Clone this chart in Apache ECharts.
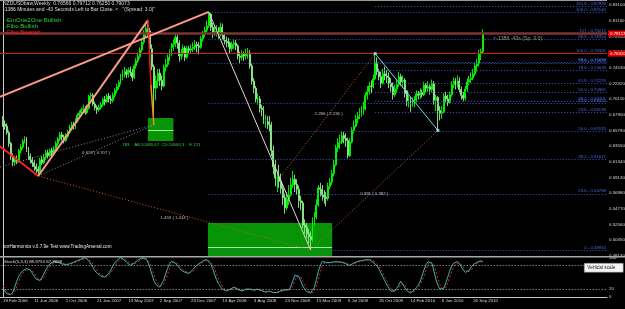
<!DOCTYPE html>
<html><head><meta charset="utf-8">
<script src="https://cdn.jsdelivr.net/npm/echarts@6/dist/echarts.min.js"></script>
<style>html,body{margin:0;padding:0;background:#000;}#c{width:625px;height:309px;}</style>
</head><body><div id="c"></div>
<script>
// ---------- data ----------
const dateLabels = ['19 Feb 2006','11 Jun 2006','1 Oct 2006','21 Jan 2007','13 May 2007','2 Sep 2007','23 Dec 2007','13 Apr 2008','3 Aug 2008','23 Nov 2008','15 Mar 2009','5 Jul 2009','25 Oct 2009','14 Feb 2010','6 Jun 2010','26 Sep 2010'];
const priceLabels = ['0.48130','0.50350','0.52560','0.54770','0.56980','0.59130','0.61340','0.63550','0.65790','0.67900','0.70110','0.72320','0.74530','0.76740','0.78950','0.81100','0.83100'];
// weekly bars from 19 Feb 2006, [open, close, low, high] in pips (1e-4)
const weeklyOCLH = [
[6700,6650,6610,6760],[6650,6620,6570,6700],[6620,6530,6500,6660],[6530,6380,6330,6560],[6380,6200,6150,6400],
[6200,6120,6060,6240],[6120,6150,6070,6200],[6150,6130,6090,6210],[6130,6280,6110,6300],[6280,6330,6240,6370],
[6330,6410,6300,6440],[6410,6450,6380,6480],[6450,6300,6260,6470],[6300,6200,6150,6330],[6200,6150,6100,6240],
[6150,6110,6050,6190],[6110,6060,6000,6150],[6060,6020,5960,6100],[6020,5990,5925,6060],[5990,6150,5970,6180],
[6150,6110,6080,6200],[6110,6190,6090,6230],[6190,6250,6150,6290],[6250,6210,6170,6290],[6210,6280,6190,6310],
[6280,6240,6200,6320],[6240,6300,6220,6340],[6300,6380,6270,6410],[6380,6440,6340,6470],[6440,6500,6410,6540],
[6500,6470,6420,6540],[6470,6420,6380,6500],[6420,6480,6400,6520],[6480,6540,6450,6570],[6540,6600,6510,6640],
[6600,6640,6560,6680],[6640,6600,6570,6680],[6600,6700,6580,6730],[6700,6770,6670,6800],[6770,6800,6740,6840],
[6800,6850,6760,6880],[6850,6860,6800,6920],[6860,6810,6780,6900],[6810,6870,6790,6920],[6870,7040,6850,7060],
[7040,7050,6990,7090],[7050,6930,6900,7080],[6930,6880,6840,6960],[6880,6850,6790,6910],[6850,6880,6820,6920],
[6880,6920,6850,6960],[6920,6990,6890,7020],[6990,6960,6910,7040],[6960,7040,6940,7070],[7040,7000,6950,7080],
[7000,6980,6930,7050],[6980,7050,6950,7090],[7050,7120,7020,7150],[7120,7170,7080,7210],[7170,7230,7130,7260],
[7230,7300,7200,7350],[7300,7370,7260,7410],[7370,7380,7300,7450],[7380,7340,7290,7420],[7340,7400,7300,7440],
[7400,7370,7320,7450],[7370,7300,7250,7420],[7300,7460,7280,7490],[7460,7530,7420,7570],[7530,7590,7500,7650],
[7590,7680,7560,7720],[7680,7790,7650,7830],[7790,7900,7760,7960],[7900,7980,7860,8040],[7980,7950,7880,8100],
[7950,7700,7650,7990],[7700,7450,7400,7760],[7450,7150,6640,7480],[7150,7250,6980,7330],[7250,7360,7150,7420],
[7360,7260,7180,7420],[7260,7180,7120,7330],[7180,7440,7160,7480],[7440,7480,7380,7560],[7480,7580,7450,7620],
[7580,7640,7530,7690],[7640,7720,7600,7780],[7720,7760,7670,7830],[7760,7860,7720,7920],[7860,7780,7700,7900],
[7780,7600,7520,7820],[7600,7640,7550,7700],[7640,7710,7590,7760],[7710,7580,7530,7740],[7580,7700,7560,7740],
[7700,7680,7620,7740],[7680,7700,7640,7760],[7700,7720,7650,7790],[7720,7760,7680,7820],[7760,7740,7650,7800],
[7740,7720,7620,7790],[7720,7840,7700,7880],[7840,7900,7800,7950],[7900,7960,7860,8010],[7960,8020,7930,8090],
[8020,8180,7990,8214],[8180,8000,7950,8200],[8000,7930,7850,8060],[7930,7940,7880,8010],[7940,7950,7870,8030],
[7950,7900,7840,8000],[7900,8000,7870,8060],[8000,7890,7830,8050],[7890,7820,7760,7930],[7820,7800,7720,7870],
[7800,7780,7720,7850],[7780,7700,7640,7800],[7700,7760,7660,7800],[7760,7780,7700,7830],[7780,7740,7680,7820],
[7740,7600,7550,7760],[7600,7580,7500,7660],[7580,7620,7540,7680],[7620,7600,7530,7660],[7600,7630,7550,7700],
[7630,7640,7560,7710],[7640,7460,7420,7680],[7460,7250,7200,7500],[7250,7150,7080,7290],[7150,7000,6950,7180],
[7000,7000,6920,7080],[7000,6870,6810,7040],[6870,6850,6760,6920],[6850,6700,6650,6900],[6700,6700,6600,6780],
[6700,6680,6580,6760],[6680,6640,6540,6760],[6640,6280,6200,6680],[6280,6050,5950,6350],[6050,5900,5780,6150],
[5900,5900,5700,6000],[5900,5850,5760,6080],[5850,5750,5680,5960],[5750,5620,5520,5800],[5620,5480,5400,5680],
[5480,5600,5450,5700],[5600,5660,5520,5800],[5660,5800,5640,5900],[5800,5880,5760,6000],[5880,5810,5700,5940],
[5810,5740,5660,5880],[5740,5580,5480,5790],[5580,5550,5450,5650],[5550,5240,5200,5580],[5240,5210,5120,5320],
[5210,5120,5060,5270],[5120,5080,4980,5180],[5080,5040,4893,5150],[5040,5300,5000,5350],[5300,5350,5230,5420],
[5350,5520,5320,5600],[5520,5760,5500,5800],[5760,5740,5640,5830],[5740,5660,5580,5800],[5660,5630,5540,5730],
[5630,5610,5500,5700],[5610,5780,5580,5830],[5780,5840,5740,5900],[5840,5960,5800,6010],[5960,6080,5920,6150],
[6080,6320,6060,6360],[6320,6390,6260,6450],[6390,6400,6300,6500],[6400,6490,6370,6550],[6490,6450,6380,6540],
[6450,6420,6330,6520],[6420,6210,6170,6460],[6210,6400,6190,6450],[6400,6560,6380,6610],[6560,6620,6520,6700],
[6620,6720,6600,6780],[6720,6760,6660,6820],[6760,6800,6720,6870],[6800,6840,6750,6900],[6840,6860,6780,6960],
[6860,7050,6840,7090],[7050,7100,6990,7180],[7100,7180,7060,7240],[7180,7170,7080,7260],[7170,7280,7150,7340],
[7280,7500,7260,7632],[7500,7380,7330,7580],[7380,7310,7260,7420],[7310,7220,7150,7380],[7220,7350,7200,7420],
[7350,7320,7260,7450],[7320,7300,7220,7400],[7300,7220,7150,7370],[7220,7170,7100,7290],[7170,7060,6990,7230],
[7060,7140,7030,7200],[7140,7200,7080,7270],[7200,7310,7170,7380],[7310,7240,7180,7350],[7240,7260,7150,7330],
[7260,7080,7020,7290],[7080,6970,6900,7120],[6970,6990,6880,7050],[6990,6960,6820,7030],[6960,6960,6890,7020],
[6960,6980,6880,7040],[6980,7070,6950,7120],[7070,7050,6990,7110],[7050,7090,7000,7150],[7090,7060,7020,7130],
[7060,7190,7040,7240],[7190,7150,7090,7220],[7150,7170,7100,7250],[7170,7130,7060,7200],[7130,7210,7090,7270],
[7210,6980,6920,7250],[6980,7020,6830,7060],[7020,6840,6561,7040],[6840,6800,6700,6900],[6800,6820,6720,6900],
[6820,7040,6800,7080],[7040,7000,6950,7100],[7000,6950,6900,7060],[6950,7060,6930,7100],[7060,7200,7030,7250],
[7200,7250,7150,7300],[7250,7190,7130,7290],[7190,7250,7160,7330],[7250,7130,7080,7300],[7130,7050,6990,7170],
[7050,7010,6970,7100],[7010,7140,6980,7180],[7140,7240,7100,7290],[7240,7270,7190,7320],[7270,7290,7220,7370],
[7290,7350,7260,7420],[7350,7460,7320,7500],[7460,7490,7380,7560],[7490,7630,7450,7680],[7630,7657,7540,7700],
[7657,7907,7625,7971]
];
const stochK = [22,15,8,5,6,12,25,40,52,60, 66,70,72,70,68,60,52,45,40,42, 50,60,70,78,84,88,90,90,88,86,
84,83,82,82,84,86,88,90,92,94, 96,98,100,96,90,82,74,66,60,56, 53,51,50,54,60,68,78,86,92,96,
100,98,94,88,84,80,82,86,90,94, 97,99,100,96,88,74,58,42,32,27, 25,30,42,58,72,84,90,90,86,80,
74,68,64,62,60,60,64,70,76,80, 84,88,91,93,95,92,84,72,58,44, 34,26,20,17,15,17,20,23,25,22,
19,17,15,17,20,22,20,18,17,18, 20,19,16,14,12,13,15,13,11,10, 12,14,16,17,18,18,18,28,42,55,
60,52,40,28,20,14,11,10,10,25, 45,65,80,90,89,87,86,87,88,89, 90,89,88,88,88,84,81,80,83,86,
89,90,91,92,93,94,95,94,92,88, 84,78,70,60,50,40,30,22,15,10, 15,22,30,40,35,25,16,12,10,12,
18,24,30,40,55,70,82,90,95,85, 65,45,30,20,15,22,35,50,65,78, 85,88,90,84,76,68,62,60,68,76,
82,86,88,91,92,89];
const stochD = [28,22,15,9,6,8,14,26,39,51, 59,65,69,71,70,66,60,52,46,42, 44,51,60,69,77,83,87,89,89,88,
86,84,83,82,83,84,86,88,90,92, 94,96,98,98,95,89,82,74,67,61, 56,53,51,52,55,61,69,77,85,91,
96,98,97,93,89,84,82,83,86,90, 94,97,99,98,95,86,73,58,44,34, 28,27,32,43,57,71,82,88,89,85,
80,74,69,65,62,61,61,65,70,75, 80,84,88,91,93,93,90,83,71,58, 45,35,27,21,17,16,17,20,23,23,
22,19,17,16,17,20,21,20,18,18, 18,19,18,16,14,13,13,14,13,11, 11,12,14,16,17,18,18,21,29,42,
52,56,51,40,29,21,15,12,10,15, 27,45,63,78,86,89,87,87,87,88, 89,89,89,88,88,87,84,82,81,83,
86,88,90,91,92,93,94,94,94,91, 88,83,77,69,60,50,40,31,22,16, 13,16,22,31,35,33,25,18,13,11,
13,18,24,31,42,55,69,82,89,90, 82,65,47,32,22,19,24,36,50,64, 76,84,88,87,83,76,69,63,63,68,
75,81,85,88,90,90];
// fibonacci levels
const fibBLevels = ['0','23.6','38.2','50.0','61.8','78.6','88.6','100.0'];
const fibBPrices = [0.48930,0.56768,0.61617,0.65535,0.69454,0.75033,0.78354,0.82140];
const fibBStartWeek = 105;
const fibALevels = ['23.6','38.2','50.0','61.8','78.6','88.6','100.0','127','161.8'];
const fibAPrices = [0.68138,0.69701,0.70965,0.72229,0.74028,0.75099,0.76320,0.79212,0.82939];
const fibAStartWeek = 190;
const brownLinePrice = 0.79117;
const redLinePrice = 0.76320;
// harmonic pattern points [week, price]
const pLeftRed = [-1.6, 0.6340];
const pLeftSalmon = [-1.6, 0.7030];
const pLeftGray = [-1.6, 0.6051];
const pX = [18, 0.5925];
const pA = [74, 0.8100];
const pAB = [75.5, 0.7200];
const pB = [77, 0.6640];
const pC = [105, 0.8214];
const pD = [157, 0.4893];
const pH = [142.4, 0.5939];
const pE = [190, 0.7632];
const pF = [222, 0.6561];
// zones [weekFrom, priceTop, weekTo, priceBottom]
const zone1 = [74, 0.6734, 87, 0.6413];
const zone1Mid = 0.6567;
const zone2 = [104.6, 0.5270, 168, 0.4809];
const zone2Mid = 0.4935;

// ---------- chart ----------
const FONT = 'Liberation Sans';
const XMIN = -16, XMAX = 308.32;
const YMIN = 0.48093, YMAX = 0.83658;
const chart = echarts.init(document.getElementById('c'), null, {renderer: 'canvas', width: 625, height: 309});

const candles = weeklyOCLH.map((r, i) => [i, r[0] / 1e4, r[1] / 1e4, r[2] / 1e4, r[3] / 1e4]);
const mid = (a, b) => [(a[0] + b[0]) / 2, (a[1] + b[1]) / 2];

function seg(points, color, width, type, z) {
  return {type: 'line', xAxisIndex: 0, yAxisIndex: 0, data: points, showSymbol: false, symbol: 'none',
    silent: true, animation: false, z: z || 5, clip: false,
    lineStyle: {color: color, width: width, type: type || 'solid'}};
}

function fibLines(levels, prices, start) {
  return levels.map((lv, k) => [
    {coord: [start, prices[k]], label: {formatter: lv + ' - ' + prices[k].toFixed(5)}},
    {coord: [XMAX, prices[k]]}
  ]);
}

const ratioLabels = [
  {value: mid(pX, pB), text: '0.673 ( 0.707 )', dy: 2},
  {value: mid(pX, pD), text: '1.453 ( 1.414 )', dy: 5},
  {value: mid(pH, pE), text: '2.286 ( 2.236 )', dy: 0},
  {value: mid(pD, pF), text: '0.391 ( 0.382 )', dy: 4}
];

const option = {
  backgroundColor: '#000000',
  animation: false,
  textStyle: {fontFamily: FONT},
  grid: [
    {left: -28.344, right: 18, top: 1, height: 255, outerBoundsMode: 'none', containLabel: false},
    {left: -28.344, right: 18, top: 257.5, height: 39.5, outerBoundsMode: 'none', containLabel: false},
    {left: -28.344, right: 18, top: 5.0, height: 266.4, outerBoundsMode: 'none', containLabel: false}
  ],
  xAxis: [
    {type: 'value', gridIndex: 0, min: XMIN, max: XMAX, show: false},
    {type: 'value', gridIndex: 1, min: XMIN, max: XMAX, interval: 16,
      axisLine: {show: true, lineStyle: {color: '#c8c8c8', width: 1}},
      axisTick: {show: false}, splitLine: {show: false},
      axisLabel: {show: true, color: '#d8d8d8', fontSize: 4.4, fontFamily: FONT, align: 'left', margin: 1.5,
        showMinLabel: true, showMaxLabel: true,
        formatter: v => { const r = Math.round(v); if (r < 0 || r % 16 !== 0) return ''; return dateLabels[r / 16] || ''; }}},
    {type: 'value', gridIndex: 2, min: XMIN, max: XMAX, show: false}
  ],
  yAxis: [
    {type: 'value', gridIndex: 0, min: YMIN, max: YMAX, position: 'right',
      axisLine: {show: true, lineStyle: {color: '#c8c8c8', width: 1}},
      axisTick: {show: false}, axisLabel: {show: false}, splitLine: {show: false}},
    {type: 'value', gridIndex: 1, min: 0, max: 100, interval: 20, position: 'right',
      axisLine: {show: true, lineStyle: {color: '#c8c8c8', width: 1}},
      axisTick: {show: false}, splitLine: {show: false},
      axisLabel: {color: '#d8d8d8', fontSize: 4.4, fontFamily: FONT, margin: 2,
        formatter: v => (v === 0 || v === 20 || v === 80 || v === 100) ? String(v) : ''}},
    {type: 'value', gridIndex: 2, min: -1, max: 16, interval: 1, position: 'right',
      axisLine: {show: false}, axisTick: {show: false}, splitLine: {show: false},
      axisLabel: {color: '#d8d8d8', fontSize: 4.4, fontFamily: FONT, margin: 2,
        formatter: v => { const r = Math.round(v); return (r >= 0 && r < priceLabels.length && Math.abs(v - r) < 1e-6) ? priceLabels[r] : ''; }}}
  ],
  series: [
    // horizontal object lines + fib levels
    {type: 'line', xAxisIndex: 0, yAxisIndex: 0, data: [], z: 1, silent: true,
      markLine: {symbol: 'none', silent: true, animation: false,
        lineStyle: {color: '#3c5ac8', width: 1, type: [1, 2]},
        label: {show: true, position: 'insideEndTop', color: '#4a6ae0', fontSize: 4.3, fontFamily: FONT, distance: [1, 0.5]},
        data: fibLines(fibBLevels, fibBPrices, fibBStartWeek).concat(fibLines(fibALevels, fibAPrices, fibAStartWeek))}},
    {type: 'line', xAxisIndex: 0, yAxisIndex: 0, data: [], z: 2, silent: true,
      markLine: {symbol: 'none', silent: true, animation: false,
        label: {show: true, position: 'end', color: '#ffffff', fontSize: 4.4, fontFamily: FONT, distance: 1,
          backgroundColor: '#e00000', padding: [1, 2]},
        data: [
          [{coord: [-2, brownLinePrice], lineStyle: {color: '#7c3434', width: 2.5, type: 'solid'}, label: {formatter: brownLinePrice.toFixed(5)}},
           {coord: [XMAX, brownLinePrice]}],
          [{coord: [-2, redLinePrice], lineStyle: {color: '#c81e1e', width: 1, type: 'solid'}, label: {formatter: redLinePrice.toFixed(5)}},
           {coord: [XMAX, redLinePrice]}]
        ]}},
    // candles
    {type: 'candlestick', xAxisIndex: 0, yAxisIndex: 0, data: candles, z: 3, barWidth: 1.4, silent: true,
      itemStyle: {color: '#00e800', color0: '#7ef07e', borderColor: '#00ff00', borderColor0: '#8cf08c', borderWidth: 0.9}},
    // zones
    {type: 'line', xAxisIndex: 0, yAxisIndex: 0, data: [], z: 4, silent: true,
      markArea: {silent: true, animation: false,
        itemStyle: {color: 'rgba(8,170,8,0.88)'},
        data: [
          [{coord: [zone1[0], zone1[1]], label: {show: true, position: 'bottom', distance: 1.5, color: '#2ed02e', fontSize: 4.3, fontFamily: FONT,
             formatter: '.783    AB:10080,67  CD:14660,3    E 121'}},
           {coord: [zone1[2], zone1[3]]}],
          [{coord: [zone2[0], zone2[1]]}, {coord: [zone2[2], zone2[3]]}]
        ]},
      markLine: {symbol: 'none', silent: true, animation: false, label: {show: false},
        lineStyle: {color: '#9cf09c', width: 1, type: 'solid'},
        data: [[{coord: [zone1[0], zone1Mid]}, {coord: [zone1[2], zone1Mid]}],
               [{coord: [zone2[0], zone2Mid]}, {coord: [zone2[2], zone2Mid]}]]}},
    // pattern lines
    seg([pLeftGray, pB], '#8a8a8a', 1, [1, 2], 5),
    seg([pX, pB], '#8a8a8a', 1, [1, 2], 5),
    seg([pX, pD], '#c8642a', 1, [1, 2], 5),
    seg([pH, pE], '#c8642a', 1, [1, 2], 5),
    seg([pD, pF], '#c8642a', 1, [1, 2], 5),
    seg([pLeftRed, pX], '#ff1e1e', 2, 'solid', 6),
    seg([pLeftSalmon, pC], '#ff9a8a', 2, 'solid', 6),
    seg([pX, pA], '#ff9a8a', 2, 'solid', 6),
    seg([pA, pAB], '#e82020', 1.5, 'solid', 6),
    seg([pAB, pB], '#ff8c00', 1.5, 'solid', 6),
    seg([pC, pD], '#f0d2d2', 1, 'solid', 6),
    seg([pE, pF], '#78d2e6', 1, 'solid', 6),
    {type: 'scatter', xAxisIndex: 0, yAxisIndex: 0, z: 7, silent: true, symbol: 'rect', symbolSize: 3,
      itemStyle: {color: '#a8ecf4'}, data: [pE, mid(pE, pF), pF]},
    {type: 'scatter', xAxisIndex: 0, yAxisIndex: 0, z: 8, silent: true, symbolSize: 0,
      data: ratioLabels.map(r => ({value: r.value, label: {show: true, position: 'inside', offset: [0, r.dy],
        formatter: r.text, color: '#e6e6e6', fontSize: 4.3, fontFamily: FONT}}))},
    // stochastic
    {type: 'line', xAxisIndex: 1, yAxisIndex: 1, data: stochD.map((v, i) => [i, v]), showSymbol: false, symbol: 'none', z: 3,
      lineStyle: {color: '#e02828', width: 1, type: [2, 2]},
      markLine: {symbol: 'none', silent: true, animation: false, label: {show: false},
        lineStyle: {color: '#b4b4b4', width: 1, type: [1, 2]},
        data: [[{coord: [XMIN, 80]}, {coord: [XMAX, 80]}], [{coord: [XMIN, 20]}, {coord: [XMAX, 20]}]]}},
    {type: 'line', xAxisIndex: 1, yAxisIndex: 1, data: stochK.map((v, i) => [i, v]), showSymbol: false, symbol: 'none', z: 4,
      lineStyle: {color: '#3cb4b4', width: 1}}
  ],
  graphic: [
    {type: 'rect', shape: {x: 0, y: 0, width: 607, height: 1}, style: {fill: '#9a9a9a'}, z: 50},
    {type: 'rect', shape: {x: 0, y: 256, width: 625, height: 1.5}, style: {fill: '#a8a8a8'}, z: 50},
    {type: 'text', left: 3, top: 1.5, z: 60, style: {text: 'NZDUSDbaw,Weekly  0.76566 0.79712 0.76250 0.79073', fill: '#dcdcdc', font: '5px ' + FONT}},
    {type: 'text', left: 3, top: 7.5, z: 60, style: {text: '-1386 Minutes and -43 Seconds Left to Bar Close. <   "(Spread: 3.0)"', fill: '#dcdcdc', font: '5px ' + FONT}},
    {type: 'text', left: 5, top: 17.5, z: 60, style: {text: '-EmOne2One Bullish', fill: '#2ed22e', font: '6px ' + FONT}},
    {type: 'text', left: 5, top: 23, z: 60, style: {text: '-Fibo Bullish', fill: '#2ed22e', font: '6px ' + FONT}},
    {type: 'text', left: 5, top: 29, z: 60, style: {text: '-Fibo Bearish', fill: '#ff2020', font: '6px ' + FONT}},
    {type: 'text', left: 493, top: 36.5, z: 60, style: {text: '<-1386 -43s (Sp. 3.0)', fill: '#969696', font: '5.2px ' + FONT}},
    {type: 'text', left: 3, top: 244.5, z: 60, style: {text: 'korHarmonics v.0.7.9e Test www.TradingArsenal.com', fill: '#e8e8e8', font: '4.6px ' + FONT}},
    {type: 'text', left: 4, top: 259.5, z: 60, style: {text: 'Stoch(5,3,3) 88.9754 87.3689', fill: '#dcdcdc', font: '4.4px ' + FONT}},
    {type: 'group', left: 584, top: 263, z: 60, children: [
      {type: 'rect', shape: {x: 0, y: 0, width: 39, height: 9}, style: {fill: '#f4f4f4', stroke: '#7a7a7a', lineWidth: 0.5}},
      {type: 'text', x: 3, y: 2.2, style: {text: 'Vertical scale', fill: '#202020', font: '4.8px ' + FONT}}
    ]}
  ]
};
chart.setOption(option);
</script>
</body></html>
